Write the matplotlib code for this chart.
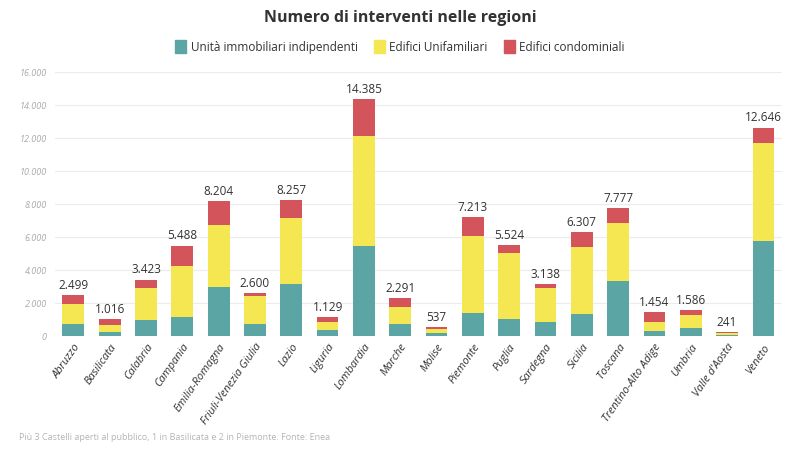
import matplotlib
matplotlib.use("Agg")
import matplotlib.pyplot as plt
import numpy as np
from matplotlib.patches import Patch

regions = ["Abruzzo", "Basilicata", "Calabria", "Campania", "Emilia-Romagna",
           "Friuli-Venezia Giulia", "Lazio", "Liguria", "Lombardia", "Marche",
           "Molise", "Piemonte", "Puglia", "Sardegna", "Sicilia", "Toscana",
           "Trentino-Alto Adige", "Umbria", "Valle d'Aosta", "Veneto"]
indipendenti = [750, 240, 970, 1150, 2970, 710, 3150, 360, 5490, 750,
                160, 1430, 1050, 830, 1310, 3350, 280, 480, 80, 5790]
unifamiliari = [1170, 430, 1920, 3110, 3750, 1710, 3990, 510, 6660, 990,
                240, 4620, 3980, 2060, 4080, 3490, 550, 770, 80, 5940]
totali = [2499, 1016, 3423, 5488, 8204, 2600, 8257, 1129, 14385, 2291,
          537, 7213, 5524, 3138, 6307, 7777, 1454, 1586, 241, 12646]
condominiali = [t - a - b for t, a, b in zip(totali, indipendenti, unifamiliari)]

teal = "#5ba6a5"
yellow = "#f4e752"
red = "#d3545a"

plt.rcParams['font.family'] = ['Open Sans', 'DejaVu Sans']

fig = plt.figure(figsize=(8, 4.61), dpi=100)
ax = fig.add_axes([0.069, 0.271, 0.908, 0.572])

x = np.arange(len(regions))
w = 0.6
ax.bar(x, indipendenti, w, color=teal, zorder=3)
ax.bar(x, unifamiliari, w, bottom=indipendenti, color=yellow, zorder=3)
bottom2 = [a + b for a, b in zip(indipendenti, unifamiliari)]
ax.bar(x, condominiali, w, bottom=bottom2, color=red, zorder=3)

for xi, t in zip(x, totali):
    ax.text(xi, t + 200, f"{t:,}".replace(",", "."), ha="center", va="bottom",
            fontsize=8.5, color="#333333")

ax.set_ylim(0, 16000)
ax.set_xlim(-0.5, len(regions) - 0.5)
ticks = np.arange(0, 16001, 2000)
ax.set_yticks(ticks)
ax.set_yticklabels([f"{t:,}".replace(",", ".") for t in ticks], fontsize=6.5,
                   color="#aaaaaa", style="italic")
ax.set_xticks(x)
ax.set_xticklabels(regions, rotation=55, ha="right", rotation_mode="anchor",
                   fontsize=8, color="#333333", style="italic")
ax.tick_params(length=0, pad=4)
ax.tick_params(axis="y", pad=6)
ax.grid(axis="y", color="#ececec", linewidth=0.8, zorder=0)
for s in ax.spines.values():
    s.set_visible(False)

fig.text(0.5, 0.962, "Numero di interventi nelle regioni", ha="center", va="center",
         fontsize=11.5, fontweight="bold", color="#333333")
handles = [Patch(color=teal), Patch(color=yellow), Patch(color=red)]
fig.legend(handles, ["Unità immobiliari indipendenti", "Edifici Unifamiliari",
                     "Edifici condominiali"],
           loc="center", bbox_to_anchor=(0.5, 0.898), ncol=3, frameon=False,
           fontsize=8.5, handlelength=0.9, handleheight=1.3, handletextpad=0.4,
           columnspacing=1.4, labelcolor="#333333")
fig.text(0.024, 0.05, "Più 3 Castelli aperti al pubblico, 1 in Basilicata e 2 in Piemonte. Fonte: Enea",
         fontsize=6.5, color="#b5b5b5", va="center")

fig.savefig("out.png", dpi=100, facecolor="white")
